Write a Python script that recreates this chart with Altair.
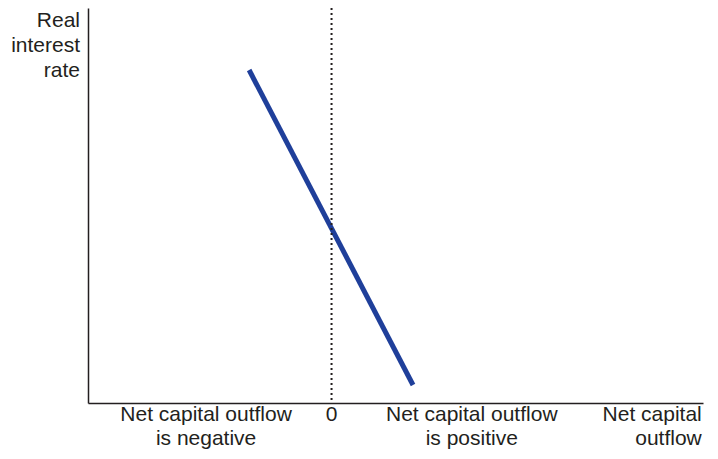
import altair as alt
import pandas as pd

# Demand curve for net capital outflow (schematic units 0..100)
curve_x = [26.2, 52.85]
curve_y = [84.3, 4.56]

zero_x = [39.6]

bottom_labels = ["Net capital outflow\nis negative", "0", "Net capital outflow\nis positive", "Net capital\noutflow"]
bottom_label_x = [19.2, 39.6, 62.4, 99.8]
bottom_label_align = ["center", "center", "center", "right"]

y_title = ["Real\ninterest\nrate"]

FONT = "Liberation Sans"
TXT = "#231f20"
FS = 21

xs = alt.Scale(domain=[0, 100], nice=False, zero=False)
ys = alt.Scale(domain=[0, 100], nice=False, zero=False)
ax_x = alt.Axis(domain=True, ticks=False, labels=False, grid=False, title=None,
                domainColor="#231f20", domainWidth=1.5)
ax_y = alt.Axis(domain=True, ticks=False, labels=False, grid=False, title=None,
                domainColor="#231f20", domainWidth=1.5)

curve_df = pd.DataFrame({"x": curve_x, "y": curve_y})
curve = alt.Chart(curve_df).mark_line(color="#1f3f9a", strokeWidth=5, strokeCap="butt").encode(
    x=alt.X("x:Q", scale=xs, axis=ax_x),
    y=alt.Y("y:Q", scale=ys, axis=ax_y),
)

zero_df = pd.DataFrame({"x": zero_x})
zero_line = alt.Chart(zero_df).mark_rule(color="#231f20", strokeWidth=2, strokeDash=[2, 3]).encode(
    x=alt.X("x:Q", scale=xs),
)

lab_df = pd.DataFrame({"text": bottom_labels, "x": bottom_label_x, "align": bottom_label_align, "y": [-4.56] * 4})
labs_c = alt.Chart(lab_df[lab_df["align"] == "center"]).mark_text(
    font=FONT, fontSize=FS, color=TXT, lineBreak="\n", lineHeight=24,
    align="center", baseline="alphabetic").encode(
    x=alt.X("x:Q", scale=xs), y=alt.Y("y:Q", scale=ys), text="text:N")
labs_r = alt.Chart(lab_df[lab_df["align"] == "right"]).mark_text(
    font=FONT, fontSize=FS, color=TXT, lineBreak="\n", lineHeight=24,
    align="right", baseline="alphabetic").encode(
    x=alt.X("x:Q", scale=xs), y=alt.Y("y:Q", scale=ys), text="text:N")

yt_df = pd.DataFrame({"text": y_title, "x": [-1.3], "y": [95.2]})
ytitle = alt.Chart(yt_df).mark_text(
    font=FONT, fontSize=FS, color=TXT, lineBreak="\n", lineHeight=25,
    align="right", baseline="alphabetic").encode(
    x=alt.X("x:Q", scale=xs), y=alt.Y("y:Q", scale=ys), text="text:N")

chart = alt.layer(curve, zero_line, labs_c, labs_r, ytitle).properties(
    width=615, height=395,
    autosize=alt.AutoSizeParams(type="none"),
    padding={"left": 80, "top": 0, "right": 7, "bottom": 48},
).configure(background="white").configure_view(stroke=None)

chart.save("out.html", embed_options={"renderer": "svg", "actions": False})
